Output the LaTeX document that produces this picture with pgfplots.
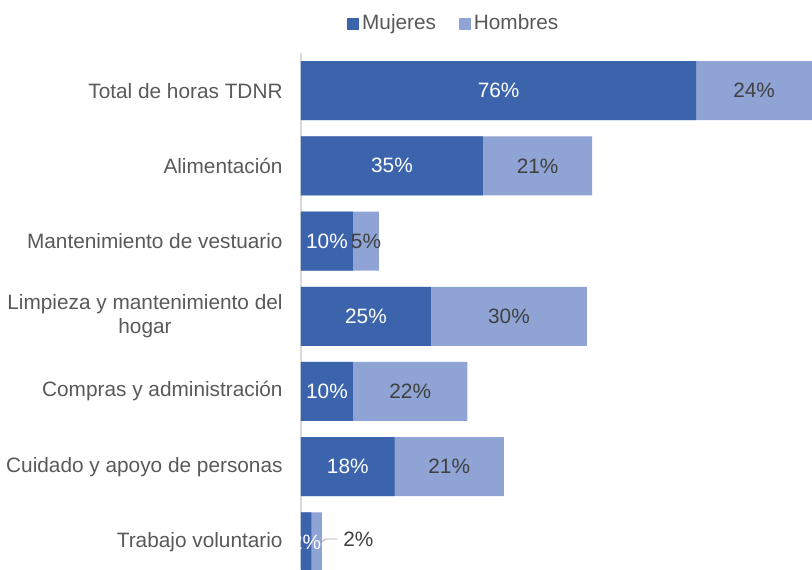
\documentclass[border=0pt]{standalone}
\usepackage{fontspec}
\setmainfont{Liberation Sans}
\usepackage{pgfplots}
\pgfplotsset{compat=1.18}
\usepackage{pgfplotstable}

\definecolor{mujeres}{HTML}{3C64AC}
\definecolor{hombres}{HTML}{8FA3D4}
\definecolor{textgris}{HTML}{595959}
\definecolor{etiqgris}{HTML}{404040}
\definecolor{ejegris}{HTML}{D9D9D9}

% y: categoria (0 = arriba), m: mujeres, h: hombres (%)
\pgfplotstableread{
y m  h
0 76 24
1 35 21
2 10 5
3 25 30
4 10 22
5 18 21
6 2  2
}\datos

\begin{document}
\fontsize{10.4pt}{12.2pt}\selectfont%
\begin{tikzpicture}
\useasboundingbox (-406pt,0pt) rectangle (0pt,284.5pt);
\clip (-406pt,0pt) rectangle (0pt,284.5pt);
\begin{axis}[
    at={(0pt,0pt)}, anchor=south east,
    scale only axis, width=255.5pt, height=258pt,
    xmin=0, xmax=98.27,
    ymin=-0.5, ymax=6.36, y dir=reverse,
    axis x line=none, axis y line*=left,
    y axis line style={ejegris, line width=0.8pt},
    xtick=\empty,
    ytick={0,...,6},
    yticklabels={Total de horas TDNR, Alimentación, Mantenimiento de vestuario,
        {Limpieza y mantenimiento del\\hogar}, Compras y administración,
        Cuidado y apoyo de personas, Trabajo voluntario},
    yticklabel style={align=center, text=textgris, inner sep=0pt, xshift=-9pt},
    major tick length=0pt,
    /pgf/number format/assume math mode=true,
    legend style={draw=none, at={(0.30,1.057)}, anchor=center,
        font=\color{textgris}, legend columns=-1,
        /tikz/every even column/.append style={column sep=10pt},
        nodes={inner sep=1.5pt}},
    legend image code/.code={\fill[#1] (0pt,-2.75pt) rectangle (5.5pt,2.75pt);},
]
% barras: hombres como total acumulado, mujeres encima
\addplot[xbar, bar width=29.5pt, bar shift=0pt, fill=hombres, draw=none, forget plot]
    table[x expr=\thisrow{m}+\thisrow{h}, y=y] {\datos};
\addplot[xbar, bar width=29.5pt, bar shift=0pt, fill=mujeres, draw=none, forget plot]
    table[x=m, y=y] {\datos};

% etiquetas
\addplot[draw=none, forget plot, point meta=explicit,
    nodes near coords={\pgfmathprintnumber[fixed,precision=0]{\pgfplotspointmeta}\%},
    every node near coord/.append style={anchor=center, text=white}]
    table[x expr=\thisrow{m}/2, y=y, meta=m] {\datos};
\addplot[draw=none, forget plot, point meta=explicit,
    skip coords between index={6}{7},
    nodes near coords={\pgfmathprintnumber[fixed,precision=0]{\pgfplotspointmeta}\%},
    every node near coord/.append style={anchor=center, text=etiqgris}]
    table[x expr={(\thisrow{m}+min(\thisrow{m}+\thisrow{h},98.27))/2}, y=y, meta=h] {\datos};
\addplot[draw=none, forget plot, point meta=explicit symbolic,
    nodes near coords,
    every node near coord/.append style={anchor=west, inner sep=0pt, text=etiqgris}]
    coordinates {(8.08,5.97) [2\%]};
\addplot[gray!70, thin, forget plot] coordinates {(3.7,6.01) (4.8,5.96) (7.0,5.96)};

\addlegendimage{mujeres}
\addlegendentry{Mujeres}
\addlegendimage{hombres}
\addlegendentry{Hombres}
\end{axis}
\end{tikzpicture}
\end{document}
